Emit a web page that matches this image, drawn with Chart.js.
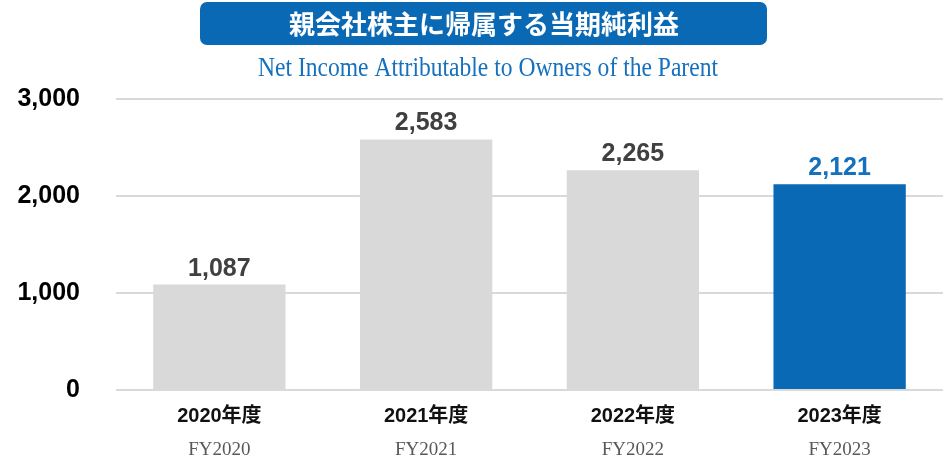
<!DOCTYPE html>
<html>
<head>
<meta charset="utf-8">
<script src="https://cdn.jsdelivr.net/npm/chart.js@4/dist/chart.umd.min.js"></script>
<style>
    html, body { margin: 0; padding: 0; background: #fff; }
    #wrap { width: 943px; height: 459px; position: relative; }
</style>
</head>
<body>
<div id="wrap"><canvas id="chart"></canvas></div>
<script>
// データ（単位：百万円）
const titleJa = '親会社株主に帰属する当期純利益';
const titleEn = 'Net Income Attributable to Owners of the Parent';
const yearsJa = ['2020年度', '2021年度', '2022年度', '2023年度'];
const yearsEn = ['FY2020', 'FY2021', 'FY2022', 'FY2023'];
const netIncome = [1087, 2583, 2265, 2121];
const yTicks = [0, 1000, 2000, 3000];

const BLUE = '#0a69b5';
const GRAY = '#d9d9d9';
const latest = netIncome.length - 1;

const fmt = v => v.toLocaleString('en-US');

// タイトル・値ラベル・X軸ラベルは自前で描画
const decorations = {
    id: 'decorations',
    afterDraw (chart) {
        const ctx = chart.ctx;
        const meta = chart.getDatasetMeta(0);
        ctx.save();

        // タイトルボックス
        ctx.fillStyle = BLUE;
        ctx.beginPath();
        ctx.roundRect(200, 2, 567, 43, 7);
        ctx.fill();
        ctx.fillStyle = '#fff';
        ctx.font = 'bold 26px "Noto Sans CJK JP"';
        ctx.textAlign = 'center';
        ctx.textBaseline = 'middle';
        ctx.fillText(titleJa, 484, 24);

        // 英語サブタイトル（横に詰める）
        ctx.font = '27px "Liberation Serif"';
        const w = ctx.measureText(titleEn).width;
        ctx.save();
        ctx.translate(488, 76);
        ctx.scale(460 / w, 1);
        ctx.fillStyle = '#1570be';
        ctx.textBaseline = 'alphabetic';
        ctx.fillText(titleEn, 0, 0);
        ctx.restore();

        meta.data.forEach((bar, i) => {
            // 値ラベル
            ctx.font = 'bold 25px "Liberation Sans"';
            ctx.fillStyle = i === latest ? '#1570be' : '#404040';
            ctx.textBaseline = 'alphabetic';
            ctx.fillText(fmt(netIncome[i]), bar.x, bar.y - 9);

            // 年度ラベル
            ctx.font = 'bold 20px "Liberation Sans", "Noto Sans CJK JP"';
            ctx.fillStyle = '#111';
            ctx.textBaseline = 'middle';
            ctx.fillText(yearsJa[i], bar.x, 416);

            ctx.font = '19px "Liberation Serif"';
            ctx.fillStyle = '#595959';
            ctx.textBaseline = 'alphabetic';
            ctx.fillText(yearsEn[i], bar.x, 455);
        });

        ctx.restore();
    }
};

new Chart(document.getElementById('chart'), {
    type: 'bar',
    data: {
        labels: yearsJa,
        datasets: [{
            data: netIncome,
            backgroundColor: netIncome.map((v, i) => i === latest ? BLUE : GRAY),
            categoryPercentage: 1,
            barPercentage: 0.64
        }]
    },
    options: {
        responsive: true,
        maintainAspectRatio: false,
        animation: false,
        layout: {
            padding: { top: 99, bottom: 69, left: 0, right: 0 }
        },
        plugins: {
            legend: { display: false },
            tooltip: { enabled: false }
        },
        scales: {
            x: {
                display: false,
                grid: { display: false }
            },
            y: {
                min: 0,
                max: 3000,
                afterBuildTicks: scale => {
                    scale.ticks = yTicks.map(v => ({ value: v }));
                },
                afterFit: scale => { scale.width = 116; },
                border: { display: false },
                grid: {
                    color: GRAY,
                    lineWidth: 2,
                    drawTicks: false
                },
                ticks: {
                    padding: 36,
                    color: '#000',
                    font: { family: 'Liberation Sans', weight: 'bold', size: 25 },
                    callback: v => fmt(v)
                }
            }
        }
    },
    plugins: [decorations]
});
</script>
</body>
</html>
